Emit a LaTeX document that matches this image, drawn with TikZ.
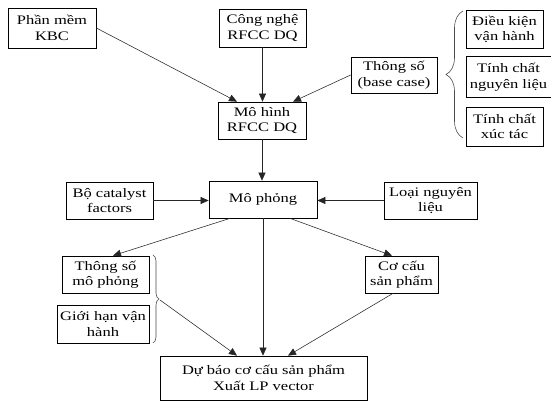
\documentclass[tikz,border=0pt]{standalone}
\usepackage{fontspec}
\setmainfont{Liberation Serif}[FakeStretch=1.27]
\usetikzlibrary{arrows.meta,decorations.pathreplacing}
\tikzset{
  box/.style={draw=black, line width=0.7pt, align=center, inner sep=0pt,
    font=\fontsize{13}{15.5}\selectfont},
  arr/.style={draw=black!85, line width=0.55pt, -{Triangle[length=8pt,width=7pt]}},
  brc/.style={draw=black!70, line width=0.6pt, decorate}
}
\begin{document}
\begin{tikzpicture}[x=1pt,y=-1pt]
\useasboundingbox[fill=white] (0,0) rectangle (551,403);
% boxes
\node[box, minimum width=88pt, minimum height=40pt] (kbc) at (52,28) {Phần mềm\\KBC};
\node[box, minimum width=87pt, minimum height=38pt] (cn) at (262.5,28) {Công nghệ\\RFCC DQ};
\node[box, minimum width=88pt, minimum height=37pt] (mh) at (262,120.5) {Mô hình\\RFCC DQ};
\node[box, minimum width=86pt, minimum height=36pt] (ts) at (394,75) {Thông số\\(base case)};
\node[box, minimum width=77pt, minimum height=38pt] (dk) at (504.5,29.5) {Điều kiện\\vận hành};
\node[box, minimum width=85pt, minimum height=41pt] (tcnl) at (508.5,77) {Tính chất\\nguyên liệu};
\node[box, minimum width=77pt, minimum height=39pt] (tcxt) at (504.5,126.5) {Tính chất\\xúc tác};
\node[box, minimum width=108pt, minimum height=37pt] (mp) at (263,199.5) {Mô phỏng};
\node[box, minimum width=87pt, minimum height=37pt] (bo) at (109.5,200.5) {Bộ catalyst\\factors};
\node[box, minimum width=93pt, minimum height=37pt] (loai) at (430.5,200.5) {Loại nguyên\\liệu};
\node[box, minimum width=87pt, minimum height=37pt] (tsmp) at (105.5,274.5) {Thông số\\mô phỏng};
\node[box, minimum width=73pt, minimum height=37pt] (cc) at (401.5,274.5) {Cơ cấu\\sản phẩm};
\node[box, minimum width=92pt, minimum height=38pt] (gh) at (103,324) {Giới hạn vận\\hành};
\node[box, minimum width=207pt, minimum height=44pt] (db) at (263.5,378) {Dự báo cơ cấu sản phẩm\\Xuất LP vector};
% braces
\draw[brc, decoration={brace, amplitude=17pt}] (463,138) -- (463,11);
\draw[brc, decoration={brace, amplitude=6pt}] (153,255) -- (153,343);
\coordinate (bt) at (160,300);
% arrows
\draw[arr] (kbc.east) -- ([xshift=-25pt]mh.north);
\draw[arr] (cn.south) -- (cn.south |- mh.north);
\draw[arr] (ts.west) -- ([xshift=31pt]mh.north);
\draw[arr] (mh.south) -- (mh.south |- mp.north);
\draw[arr] (bo.east) -- (bo.east -| mp.west);
\draw[arr] (loai.west) -- (loai.west -| mp.east);
\draw[arr] ([xshift=-33pt]mp.south) -- ([xshift=7.5pt]tsmp.north);
\draw[arr] ([xshift=27pt]mp.south) -- ([xshift=-9.5pt]cc.north);
\draw[arr] (mp.south) -- (mp.south |- db.north);
\draw[arr] (bt) -- ([xshift=-26.5pt]db.north);
\draw[arr] ([xshift=-8.5pt]cc.south) -- ([xshift=24.5pt]db.north);
\end{tikzpicture}
\end{document}
